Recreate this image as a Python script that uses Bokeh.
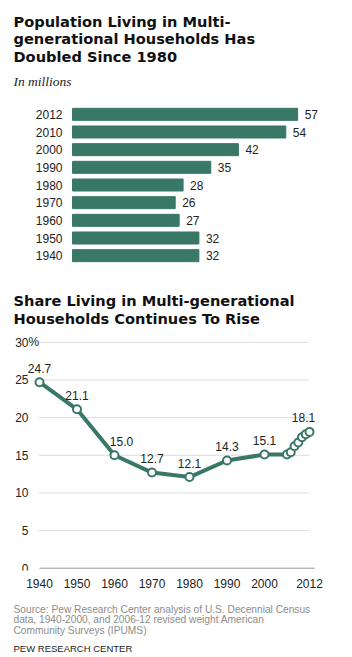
from bokeh.plotting import figure
from bokeh.layouts import column
from bokeh.models import Range1d, FactorRange, FixedTicker
from bokeh.core.properties import value
from bokeh.embed import file_html
from bokeh.resources import INLINE

# ---------------- data ----------------
bar_years = ["1940", "1950", "1960", "1970", "1980", "1990", "2000", "2010", "2012"]
bar_millions = [32, 32, 27, 26, 28, 35, 42, 54, 57]

line_years = [1940, 1950, 1960, 1970, 1980, 1990, 2000, 2006, 2007, 2008, 2009, 2010, 2011, 2012]
line_share = [24.7, 21.1, 15.0, 12.7, 12.1, 14.3, 15.1, 15.1, 15.4, 16.2, 16.7, 17.4, 17.8, 18.1]
labeled_years = [1940, 1950, 1960, 1970, 1980, 1990, 2000, 2012]
y_ticks = [0, 5, 10, 15, 20, 25, 30]
x_ticks = [1940, 1950, 1960, 1970, 1980, 1990, 2000, 2012]

title1 = ["Population Living in Multi-", "generational Households Has", "Doubled Since 1980"]
subtitle1 = "In millions"
title2 = ["Share Living in Multi-generational", "Households Continues To Rise"]
source_lines = ["Source: Pew Research Center analysis of U.S. Decennial Census",
                "data, 1940-2000, and 2006-12  revised weight American",
                "Community Surveys  (IPUMS)"]
credit = "PEW RESEARCH  CENTER"

# ---------------- styles ----------------
W = 352
GREEN = "#397867"
SANS = value("Liberation Sans")
label_dx = [0, 0, 7, 0, 0, 0, 0, -6]   # small horizontal nudges of point labels (px)


def base_fig(h, x_range, y_range, bottom=0):
    p = figure(width=W, height=h, x_range=x_range, y_range=y_range,
               output_backend="svg", toolbar_location=None,
               x_axis_location="below" if bottom else None, y_axis_location=None,
               min_border_left=0, min_border_right=0, min_border_top=0,
               min_border_bottom=bottom, outline_line_color=None,
               background_fill_color="white")
    p.grid.visible = False
    return p


def text_fig(h):
    return base_fig(h, Range1d(0, W), Range1d(h, 0))


def title_text(p, lines, y0, dy, size="14.6px"):
    p.text(x=[13] * len(lines), y=[y0 + i * dy for i in range(len(lines))], text=lines,
           text_font=value("DejaVu Sans"), text_font_style="bold", text_font_size=size,
           text_color="#111111", text_baseline="alphabetic", text_align="left")


# ---------------- block A: title 1 ----------------
pA = text_fig(105)
title_text(pA, title1, 20.7, 17.6)
pA.text(x=[13], y=[80.7], text=[subtitle1], text_font=value("Liberation Serif"),
        text_font_style="italic", text_font_size="13.5px", text_color="#222222",
        text_baseline="alphabetic")

# ---------------- block B: bars ----------------
px_per_m = 3.95
bar_left_px = 72
pB = base_fig(159, Range1d(-bar_left_px / px_per_m, (W - bar_left_px) / px_per_m),
              FactorRange(factors=bar_years))
pB.hbar(y=bar_years, right=bar_millions, left=0, height=0.68, color=GREEN)
pB.text(x=bar_millions, y=bar_years, text=[str(v) for v in bar_millions], x_offset=7,
        text_baseline="middle", text_align="left", text_font=SANS,
        text_font_size="12px", text_color="#222222")
pB.text(x=[0] * len(bar_years), y=bar_years, text=bar_years, x_offset=-10,
        text_baseline="middle", text_align="right", text_font=SANS,
        text_font_size="12px", text_color="#222222")

# ---------------- block C: title 2 ----------------
pC = text_fig(68)
title_text(pC, title2, 36, 17.7)

# ---------------- block D: line chart ----------------
px_x = 3.75     # px per year
px_y = 7.53     # px per percentage point
left_px = 39
frame_h = 238
below0 = 2.3
pD = base_fig(frame_h + 23,
              Range1d(1940 - left_px / px_x, 1940 + (W - left_px) / px_x),
              Range1d(-below0 / px_y, (frame_h - below0) / px_y), bottom=23)

grid_vals = y_ticks[1:]
pD.segment(x0=[line_years[0]] * len(grid_vals), x1=[line_years[-1]] * len(grid_vals),
           y0=grid_vals, y1=grid_vals, line_color="#b8b8b8", line_width=1, line_dash="1 1")
pD.segment(x0=[line_years[0]], x1=[line_years[-1] + 1.4], y0=[0], y1=[0],
           line_color="#9a9a9a", line_width=1)

pD.text(x=[line_years[0]] * len(y_ticks), y=y_ticks, text=[str(t) for t in y_ticks],
        x_offset=-11, text_align="right", text_baseline="middle", text_font=SANS,
        text_font_size="12px", text_color="#222222")
pD.text(x=[line_years[0]], y=[y_ticks[-1]], text=["%"], x_offset=-11, text_align="left",
        text_baseline="middle", text_font=SANS, text_font_size="12px", text_color="#222222")

pD.line(line_years, line_share, line_color=GREEN, line_width=4, line_join="round")
pD.scatter(line_years, line_share, size=8, fill_color="white", line_color=GREEN, line_width=2)

lab_vals = [line_share[line_years.index(y)] for y in labeled_years]
pD.text(x=labeled_years, y=lab_vals, text=[f"{v:.1f}" for v in lab_vals],
        x_offset=label_dx, y_offset=-14, text_align="center", text_baseline="middle",
        text_font=SANS, text_font_size="12px", text_color="#222222")

xa = pD.xaxis[0]
xa.ticker = FixedTicker(ticks=x_ticks)
xa.axis_line_color = None
xa.major_tick_out = 0
xa.major_tick_in = 0
xa.minor_tick_out = 0
xa.minor_tick_in = 0
xa.major_label_standoff = 8
xa.major_label_text_font = "Liberation Sans"
xa.major_label_text_font_size = "12px"
xa.major_label_text_color = "#222222"

# ---------------- block E: source ----------------
pE = text_fig(64)
pE.text(x=[13] * 3, y=[15.5, 26.2, 36.9], text=source_lines, text_font=SANS,
        text_font_size="10.2px", text_color="#8c8c8c", text_baseline="alphabetic")
pE.text(x=[13], y=[55], text=[credit], text_font=SANS, text_font_size="9.5px",
        text_color="#222222", text_baseline="alphabetic")

layout = column(pA, pB, pC, pD, pE, spacing=0)
open("out.html", "w").write(file_html(layout, INLINE))
